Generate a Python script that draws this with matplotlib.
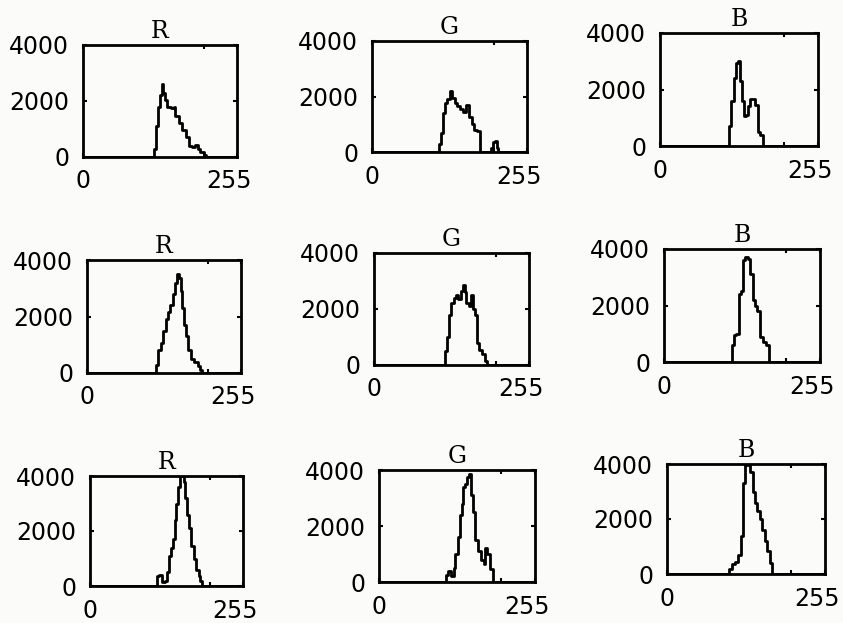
import matplotlib
matplotlib.use('Agg')
import matplotlib.pyplot as plt
import matplotlib.transforms as mtransforms

# titoli dei pannelli (righe = immagini, colonne = canali)
titles = ['R', 'G', 'B', 'R', 'G', 'B', 'R', 'G', 'B']

# livelli di grigio e conteggi (istogrammi a gradini)
x1 = [0, 118, 121, 124, 127, 130, 133, 136, 139, 145, 150, 153, 159, 164, 170, 175, 181, 186, 190, 194, 200, 203, 255]
y1 = [0, 300, 1100, 1800, 2200, 2600, 2300, 2050, 1800, 1750, 1800, 1450, 1200, 950, 700, 380, 350, 420, 300, 180, 60, 0, 0]

x2 = [0, 111, 114, 117, 120, 124, 128, 132, 136, 140, 145, 150, 155, 159, 164, 168, 173, 177, 196, 199, 202, 205, 208, 255]
y2 = [0, 300, 700, 1400, 1750, 1900, 2200, 1950, 1750, 1650, 1550, 1450, 1700, 1250, 1000, 800, 750, 0, 150, 350, 400, 150, 0, 0]

x3 = [0, 112, 115, 119, 123, 126, 129, 132, 135, 138, 142, 146, 150, 154, 158, 162, 166, 255]
y3 = [0, 700, 1600, 2400, 2950, 3000, 2300, 1600, 1050, 1100, 1400, 1650, 1650, 1450, 500, 400, 0, 0]

x4 = [0, 114, 118, 122, 126, 130, 134, 138, 142, 146, 149, 152, 155, 158, 161, 164, 168, 173, 178, 183, 187, 190, 255]
y4 = [0, 300, 800, 1050, 1500, 1900, 2150, 2400, 2800, 3200, 3500, 3350, 2900, 2300, 1700, 1300, 800, 500, 400, 250, 120, 0, 0]

x5 = [0, 117, 120, 123, 127, 131, 135, 139, 143, 146, 149, 152, 156, 160, 163, 166, 169, 172, 177, 182, 186, 255]
y5 = [0, 500, 1000, 1800, 2200, 2400, 2500, 2350, 2650, 2850, 2600, 2200, 2100, 2500, 2000, 1800, 800, 550, 400, 150, 0, 0]

x6 = [0, 111, 114, 118, 122, 126, 129, 133, 137, 141, 145, 148, 152, 157, 162, 166, 171, 255]
y6 = [0, 600, 950, 1000, 2400, 2500, 3600, 3700, 3650, 3100, 2200, 2000, 1800, 900, 700, 600, 0, 0]

x7 = [0, 111, 115, 120, 125, 129, 132, 135, 138, 141, 144, 147, 150, 153, 156, 159, 162, 165, 169, 173, 177, 181, 184, 187, 255]
y7 = [0, 350, 400, 150, 200, 500, 1100, 1400, 1700, 2400, 3000, 3600, 4000, 4000, 3800, 3200, 2600, 2100, 1450, 1000, 600, 350, 200, 0, 0]

x8 = [0, 109, 113, 118, 122, 125, 129, 132, 135, 138, 141, 144, 147, 150, 153, 157, 162, 167, 171, 174, 177, 181, 186, 255]
y8 = [0, 250, 400, 200, 500, 1000, 1600, 2400, 2800, 3400, 3500, 3750, 3850, 3100, 2500, 1500, 1100, 800, 650, 1200, 1000, 450, 0, 0]

x9 = [0, 100, 105, 110, 115, 119, 122, 126, 130, 134, 138, 142, 146, 150, 154, 158, 162, 166, 170, 255]
y9 = [0, 200, 350, 450, 700, 1400, 3300, 3950, 4000, 3700, 3000, 2600, 2300, 2000, 1600, 1200, 850, 400, 0, 0]

series = [(x1, y1), (x2, y2), (x3, y3), (x4, y4), (x5, y5), (x6, y6), (x7, y7), (x8, y8), (x9, y9)]

# posizione degli assi in pixel: sinistra, destra, alto, basso
boxes = [
    (83, 237, 45, 157), (372, 527, 41, 152), (660, 818, 33, 146),
    (87, 241, 260, 373), (374, 529, 253, 365), (664, 820, 249, 362),
    (90, 243, 476, 586), (379, 535, 470, 582), (667, 825, 464, 574),
]

W, H = 843, 623
fig = plt.figure(figsize=(W / 100, H / 100), dpi=100)
fig.patch.set_facecolor('#fbfbf9')

for (x, y), title, (l, r, t, b) in zip(series, titles, boxes):
    ax = fig.add_axes([l / W, 1 - b / H, (r - l) / W, (b - t) / H])
    ax.set_facecolor('#fbfbf9')
    ax.step(x, y, where='post', color='black', linewidth=2.0)
    ax.set_xlim(0, 255)
    ax.set_ylim(0, 4000)
    ax.set_xticks([0, 200, 255], labels=['0', '', '255'])
    ax.set_yticks([0, 2000, 4000], labels=['0', '2000', '4000'])
    ax.tick_params(direction='in', length=3, width=1.5, top=True, right=True,
                   labelsize=17, colors='black')
    ax.tick_params(axis='x', pad=9)
    ax.tick_params(axis='y', pad=10)
    # sposta un po' a sinistra l'etichetta 255 come nell'originale
    lab = ax.get_xticklabels()[2]
    lab.set_transform(lab.get_transform() + mtransforms.ScaledTranslation(-6 / 72, 0, fig.dpi_scale_trans))
    for s in ax.spines.values():
        s.set_linewidth(2.0)
    ax.set_title(title, fontsize=17, family='DejaVu Serif', pad=5)

plt.savefig('out.png', dpi=100, facecolor=fig.get_facecolor())
